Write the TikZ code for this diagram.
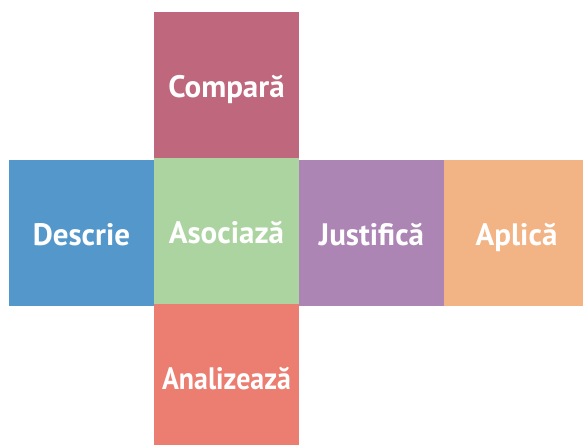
\documentclass[tikz,border=0pt]{standalone}
\usepackage{fontspec}
\setmainfont{PT Sans}
\definecolor{cmpC}{HTML}{BE677D}
\definecolor{desC}{HTML}{5497CB}
\definecolor{asoC}{HTML}{ACD4A0}
\definecolor{jusC}{HTML}{AC85B5}
\definecolor{aplC}{HTML}{F2B385}
\definecolor{anaC}{HTML}{EC7D71}
\begin{document}
\begin{tikzpicture}[x=1pt,y=-1pt,
  box/.style={rectangle, inner sep=0pt, minimum width=145pt, minimum height=146pt,
    text height=30pt, text depth=6pt,
    text=white, font=\bfseries\fontsize{31}{36}\selectfont}]
\useasboundingbox (0,0) rectangle (583,444);
\clip (0,0) rectangle (583,444);
\node[box, fill=cmpC] (cmp) at (226.5,85) {Compară};
\node[box, fill=desC] (des) at (81.5,233) {Descrie};
\node[box, fill=jusC] (jus) at (371.5,233) {Justifică};
\node[box, fill=aplC] (apl) at (516.5,233) {Aplică};
\node[box, fill=anaC] (ana) at (226.5,377) {\scalebox{0.9}[1]{Analizează}};
\node[box, fill=asoC] (aso) at (226.5,231) {Asociază};
\end{tikzpicture}
\end{document}
